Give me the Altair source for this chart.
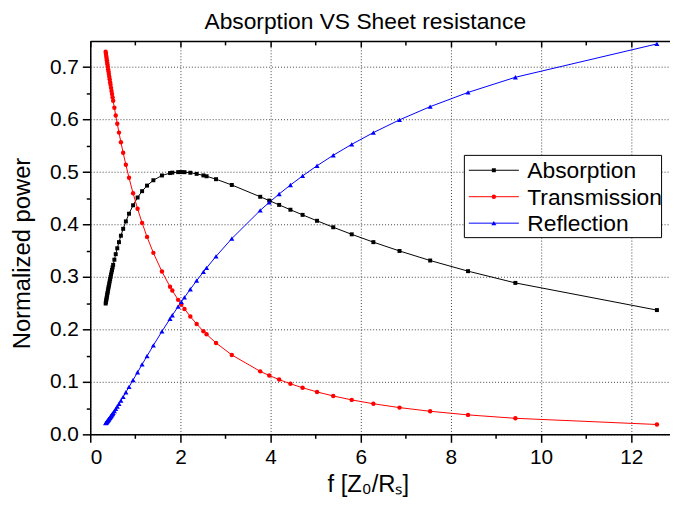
import altair as alt
import pandas as pd

FONT = "Liberation Sans"

# x values: f = Z0/Rs
f_vals = [12.57, 9.43, 8.38, 7.54, 6.86, 6.28, 5.80, 5.39, 5.03, 4.71,
          4.44, 4.19, 3.97, 3.77, 3.14, 2.79, 2.58, 2.51, 2.36, 2.22,
          2.09, 2.02, 1.95, 1.82, 1.77, 1.59, 1.40, 1.26, 1.15, 1.05,
          0.95, 0.86, 0.79, 0.73, 0.68, 0.637, 0.599, 0.565, 0.535, 0.508,
          0.495, 0.483, 0.472, 0.461, 0.450, 0.441, 0.431, 0.422, 0.413, 0.405,
          0.397, 0.389, 0.382, 0.375, 0.368, 0.361, 0.355, 0.348, 0.342]

absorption = [0.2369, 0.2887, 0.3111, 0.3314, 0.3496, 0.3664, 0.3813, 0.3948, 0.4071, 0.4184,
              0.4282, 0.4374, 0.4456, 0.4529, 0.4754, 0.4864, 0.4920, 0.4936, 0.4966, 0.4987,
              0.4998, 0.5000, 0.4999, 0.4989, 0.4981, 0.4935, 0.4844, 0.4742, 0.4636, 0.4515,
              0.4367, 0.4206, 0.4060, 0.3918, 0.3787, 0.3664, 0.3547, 0.3435, 0.3330, 0.3231,
              0.3181, 0.3134, 0.3090, 0.3045, 0.2999, 0.2961, 0.2917, 0.2878, 0.2837, 0.2801,
              0.2764, 0.2726, 0.2693, 0.2659, 0.2625, 0.2591, 0.2560, 0.2525, 0.2494]

transmission = [0.0188, 0.0306, 0.0371, 0.0440, 0.0510, 0.0583, 0.0657, 0.0732, 0.0809, 0.0888,
                0.0964, 0.1044, 0.1122, 0.1201, 0.1514, 0.1743, 0.1907, 0.1967, 0.2104, 0.2246,
                0.2391, 0.2475, 0.2564, 0.2741, 0.2814, 0.3104, 0.3460, 0.3764, 0.4031, 0.4300,
                0.4596, 0.4890, 0.5139, 0.5367, 0.5569, 0.5752, 0.5922, 0.6080, 0.6225, 0.6359,
                0.6426, 0.6488, 0.6546, 0.6605, 0.6664, 0.6713, 0.6768, 0.6819, 0.6870, 0.6916,
                0.6962, 0.7009, 0.7050, 0.7091, 0.7133, 0.7176, 0.7212, 0.7255, 0.7293]

reflection = [0.7443, 0.6807, 0.6518, 0.6247, 0.5995, 0.5752, 0.5529, 0.5320, 0.5120, 0.4927,
              0.4753, 0.4582, 0.4422, 0.4269, 0.3732, 0.3393, 0.3173, 0.3097, 0.2930, 0.2767,
              0.2611, 0.2525, 0.2437, 0.2270, 0.2204, 0.1962, 0.1696, 0.1494, 0.1333, 0.1185,
              0.1037, 0.0904, 0.0802, 0.0715, 0.0644, 0.0584, 0.0531, 0.0485, 0.0445, 0.0410,
              0.0394, 0.0378, 0.0365, 0.0351, 0.0337, 0.0326, 0.0314, 0.0304, 0.0293, 0.0284,
              0.0274, 0.0265, 0.0257, 0.0249, 0.0242, 0.0234, 0.0227, 0.0220, 0.0213]

series_names = ["Absorption", "Transmission", "Reflection"]
series_colors = ["#000000", "#ff0000", "#0000ff"]
marker_shapes = ["square", "circle", "triangle-up"]
marker_sizes = [16, 20, 26]

x_major = [0, 2, 4, 6, 8, 10, 12]
x_minor = [1, 3, 5, 7, 9, 11]
y_major = [0.0, 0.1, 0.2, 0.3, 0.4, 0.5, 0.6, 0.7]
y_minor = [0.05, 0.15, 0.25, 0.35, 0.45, 0.55, 0.65]

rows = []
for name, vals in zip(series_names, [absorption, transmission, reflection]):
    for fv, v in zip(f_vals, vals):
        rows.append({"f": fv, "value": v, "series": name})
df = pd.DataFrame(rows)

xs = alt.Scale(domain=[0, 12.86], nice=False, zero=False)
ys = alt.Scale(domain=[0, 0.75], nice=False, zero=False)
cscale = alt.Scale(domain=series_names, range=series_colors)

base = alt.Chart(df)


def axis_layer(xaxis, yaxis):
    return base.mark_point(opacity=0).encode(
        x=alt.X("f:Q", scale=xs, axis=xaxis),
        y=alt.Y("value:Q", scale=ys, axis=yaxis),
    )


main_x = alt.Axis(orient="bottom", values=x_major, format="d", grid=True,
                  gridColor="#444", gridDash=[1, 2], gridWidth=1,
                  domain=True, domainColor="#000", domainWidth=1.5,
                  ticks=True, tickSize=8, tickColor="#000", tickWidth=1.5,
                  labelFontSize=21, labelFont=FONT, labelColor="#000", labelPadding=4,
                  title="f [Z₀/Rₛ]", titleFontSize=24, titleFont=FONT,
                  titleFontWeight="normal", titleColor="#000",
                  titleX=280, titleY=58, titleBaseline="alphabetic", titleAlign="center")
minor_x = alt.Axis(orient="bottom", values=x_minor, labels=False, grid=False,
                   domain=False, ticks=True, tickSize=4, tickWidth=1.5,
                   tickColor="#000", title=None)
top_dom = alt.Axis(orient="top", labels=False, ticks=False, grid=False, domain=True,
                   domainColor="#000", domainWidth=1.5, title=None)
top_major = alt.Axis(orient="top", offset=-6, values=x_major, labels=False, grid=False,
                     domain=False, ticks=True, tickSize=6, tickWidth=1.5,
                     tickColor="#000", title=None)
top_minor = alt.Axis(orient="top", offset=-4, values=x_minor, labels=False, grid=False,
                     domain=False, ticks=True, tickSize=4, tickWidth=1.5,
                     tickColor="#000", title=None)

main_y = alt.Axis(orient="left", values=y_major, format=".1f", grid=True,
                  gridColor="#444", gridDash=[1, 2], gridWidth=1,
                  domain=True, domainColor="#000", domainWidth=1.5,
                  ticks=True, tickSize=8, tickColor="#000", tickWidth=1.5,
                  labelFontSize=21, labelFont=FONT, labelColor="#000", labelPadding=4,
                  title="Normalized power", titleFontSize=24, titleFont=FONT,
                  titleFontWeight="normal", titleColor="#000",
                  titleX=-61, titleY=214, titleBaseline="alphabetic",
                  titleAngle=270, titleAlign="center")
minor_y = alt.Axis(orient="left", values=y_minor, labels=False, grid=False,
                   domain=False, ticks=True, tickSize=4, tickWidth=1.5,
                   tickColor="#000", title=None)

layers = [
    axis_layer(main_x, main_y),
    axis_layer(minor_x, minor_y),
    axis_layer(top_dom, None),
    axis_layer(top_major, None),
    axis_layer(top_minor, None),
]

lines = base.mark_line(strokeWidth=1).encode(
    x=alt.X("f:Q", scale=xs, axis=None),
    y=alt.Y("value:Q", scale=ys, axis=None),
    color=alt.Color("series:N", scale=cscale, legend=None),
)
layers.append(lines)

for name, shp, sz in zip(series_names, marker_shapes, marker_sizes):
    layers.append(
        base.transform_filter(alt.datum.series == name)
        .mark_point(shape=shp, filled=True, size=sz, opacity=1)
        .encode(
            x=alt.X("f:Q", scale=xs, axis=None),
            y=alt.Y("value:Q", scale=ys, axis=None),
            color=alt.Color("series:N", scale=cscale, legend=None),
        )
    )

# ---- legend box (drawn by hand, in plot pixel coordinates) ----
LEG_LEFT, LEG_RIGHT, LEG_TOP, LEG_BOTTOM = 377.5, 576.5, 115.5, 198.5
ROW0, ROW_STEP = 130.5, 26.7
SYM_X0, SYM_X1, LABEL_X = 382, 432.5, 441

legend_box = alt.Chart(pd.DataFrame({"k": [0]})).mark_rect(
    fill="white", stroke="black", strokeWidth=1
).encode(x=alt.value(LEG_LEFT), x2=alt.value(LEG_RIGHT),
         y=alt.value(LEG_TOP), y2=alt.value(LEG_BOTTOM))
layers.append(legend_box)

for i, (name, col, shp, sz) in enumerate(zip(series_names, series_colors, marker_shapes, marker_sizes)):
    yrow = ROW0 + ROW_STEP * i
    ldf = pd.DataFrame({"series": [name]})
    layers.append(alt.Chart(ldf).mark_rule(color=col, strokeWidth=1).encode(
        x=alt.value(SYM_X0), x2=alt.value(SYM_X1), y=alt.value(yrow)))
    layers.append(alt.Chart(ldf).mark_point(shape=shp, filled=True, size=sz, color=col, opacity=1).encode(
        x=alt.value((SYM_X0 + SYM_X1) / 2), y=alt.value(yrow)))
    layers.append(alt.Chart(ldf).mark_text(align="left", baseline="middle", font=FONT,
                                            fontSize=23, color="black", dy=1).encode(
        x=alt.value(LABEL_X), y=alt.value(yrow), text="series:N"))

chart = alt.layer(*layers).resolve_axis(x="independent", y="independent").properties(
    width=585,
    height=397,
    title=alt.TitleParams(text="Absorption VS Sheet resistance", fontSize=23, font=FONT,
                          fontWeight="normal", color="#000", anchor="middle", dx=-15, offset=6),
    autosize=alt.AutoSizeParams(type="none"),
    padding={"left": 83, "top": 31, "right": 0, "bottom": 62},
).configure_view(stroke=None)

chart.save("out.html", embed_options={"renderer": "svg", "actions": False})
